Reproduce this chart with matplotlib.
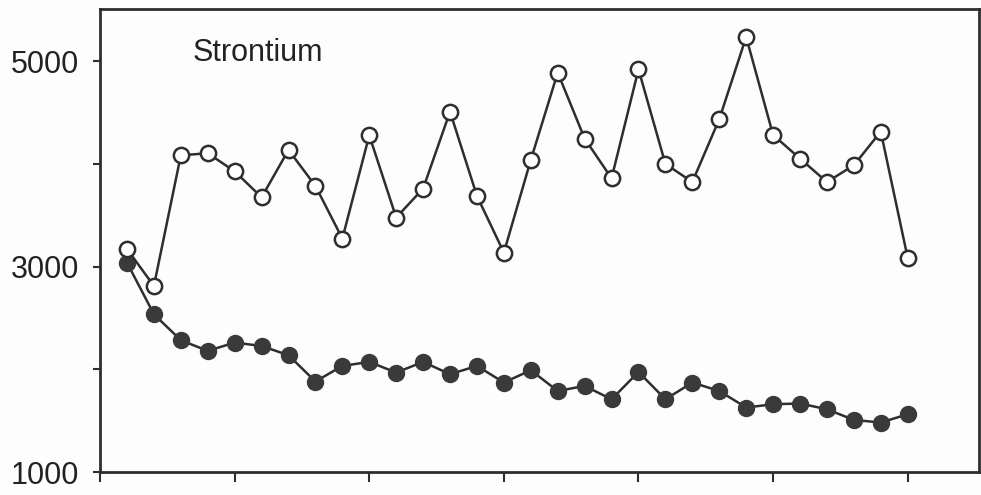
#!/usr/bin/env python3
"""Strontium series: open vs filled circles over 30 samples."""
import matplotlib
matplotlib.use("Agg")
import matplotlib.pyplot as plt

sample = list(range(1, 31))

open_series = [3173, 2813, 4085, 4105, 3929, 3676, 4137, 3787, 3274, 4280,
               3479, 3761, 4510, 3689, 3138, 4040, 4890, 4248, 3861, 4922,
               4001, 3825, 4436, 5237, 4283, 4053, 3825, 3988, 4316, 3086]

filled_series = [3040, 2538, 2285, 2181, 2262, 2229, 2139, 1883, 2035, 2074,
                 1970, 2074, 1954, 2035, 1873, 1993, 1791, 1840, 1710, 1976,
                 1710, 1873, 1791, 1630, 1662, 1669, 1613, 1509, 1484, 1564]

y_ticks = [1000, 3000, 5000]
y_minor = [2000, 4000]
x_ticks = [0, 5, 10, 15, 20, 25, 30]

INK = "#2e2e2e"

plt.rcParams["font.family"] = ["Liberation Sans", "DejaVu Sans"]

fig = plt.figure(figsize=(9.81, 4.95), dpi=100)
fig.patch.set_facecolor("#fdfdfd")
ax = fig.add_axes([0.102, 0.046, 0.896, 0.936])
ax.set_facecolor("#fdfdfd")

ax.plot(sample, filled_series, color=INK, lw=1.8, marker="o", ms=11.5,
        mfc="#3a3a3a", mec="#3a3a3a", zorder=2)
ax.plot(sample, open_series, color=INK, lw=1.8, marker="o", ms=11,
        mfc="white", mec=INK, mew=1.8, zorder=3)

ax.set_xlim(0, 32.65)
ax.set_ylim(1000, 5510)
ax.set_xticks(x_ticks)
ax.set_xticklabels([])
ax.set_yticks(y_ticks)
ax.set_yticks(y_minor, minor=True)
ax.tick_params(axis="y", which="both", direction="out", length=5, width=1.5,
               color=INK, labelsize=22, labelcolor="#222222", pad=10)
ax.tick_params(axis="x", direction="out", length=7, width=1.5, color=INK)

for sp in ax.spines.values():
    sp.set_color(INK)
    sp.set_linewidth(2)

ax.text(0.105, 0.905, "Strontium", transform=ax.transAxes, fontsize=22,
        color="#222222", ha="left", va="center")

fig.savefig("out.png", dpi=100, facecolor=fig.get_facecolor())
